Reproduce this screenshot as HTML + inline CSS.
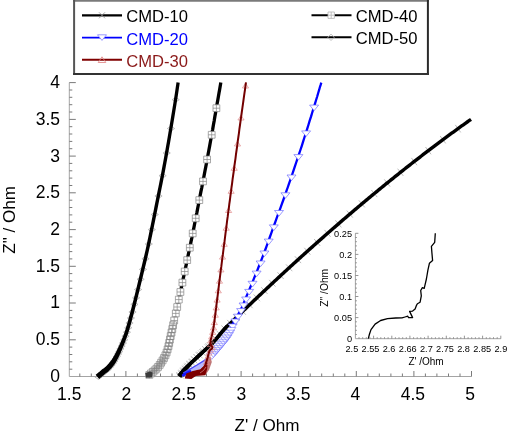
<!DOCTYPE html><html><head><meta charset="utf-8"><style>html,body{margin:0;padding:0;background:#fff;}svg{display:block;will-change:transform;}</style></head><body>
<svg width="507" height="436" viewBox="0 0 507 436" font-family="Liberation Sans, sans-serif">
<rect width="507" height="436" fill="#fff"/>
<path d="M69.3 82.6 V376.5 H471.5" stroke="#a4a4a4" stroke-width="1" fill="none"/>
<path d="M79.8 376.5v-3 M91.3 376.5v-3 M102.9 376.5v-3 M114.4 376.5v-3 M125.9 376.5v-5.5 M137.4 376.5v-3 M148.9 376.5v-3 M160.5 376.5v-3 M172.0 376.5v-3 M183.5 376.5v-5.5 M195.0 376.5v-3 M206.5 376.5v-3 M218.1 376.5v-3 M229.6 376.5v-3 M241.1 376.5v-5.5 M252.6 376.5v-3 M264.1 376.5v-3 M275.7 376.5v-3 M287.2 376.5v-3 M298.7 376.5v-5.5 M310.2 376.5v-3 M321.7 376.5v-3 M333.3 376.5v-3 M344.8 376.5v-3 M356.3 376.5v-5.5 M367.8 376.5v-3 M379.3 376.5v-3 M390.9 376.5v-3 M402.4 376.5v-3 M413.9 376.5v-5.5 M425.4 376.5v-3 M436.9 376.5v-3 M448.5 376.5v-3 M460.0 376.5v-3 M471.5 376.5v-5.5 M69.3 369.2h3 M69.3 361.8h3 M69.3 354.5h3 M69.3 347.1h3 M69.3 339.8h6.5 M69.3 332.4h3 M69.3 325.1h3 M69.3 317.7h3 M69.3 310.4h3 M69.3 303.0h6.5 M69.3 295.7h3 M69.3 288.3h3 M69.3 281.0h3 M69.3 273.6h3 M69.3 266.3h6.5 M69.3 258.9h3 M69.3 251.6h3 M69.3 244.3h3 M69.3 236.9h3 M69.3 229.6h6.5 M69.3 222.2h3 M69.3 214.9h3 M69.3 207.5h3 M69.3 200.2h3 M69.3 192.8h6.5 M69.3 185.5h3 M69.3 178.1h3 M69.3 170.8h3 M69.3 163.4h3 M69.3 156.1h6.5 M69.3 148.7h3 M69.3 141.4h3 M69.3 134.0h3 M69.3 126.7h3 M69.3 119.4h6.5 M69.3 112.0h3 M69.3 104.7h3 M69.3 97.3h3 M69.3 90.0h3 M69.3 82.6h6.5" stroke="#7a7a7a" stroke-width="1" fill="none"/>
<text x="69.2" y="399.6" font-size="17.5" text-anchor="middle">1.5</text>
<text x="126.3" y="399.6" font-size="17.5" text-anchor="middle">2</text>
<text x="183.7" y="399.6" font-size="17.5" text-anchor="middle">2.5</text>
<text x="241.4" y="399.6" font-size="17.5" text-anchor="middle">3</text>
<text x="298.2" y="399.6" font-size="17.5" text-anchor="middle">3.5</text>
<text x="355.3" y="399.6" font-size="17.5" text-anchor="middle">4</text>
<text x="412.9" y="399.6" font-size="17.5" text-anchor="middle">4.5</text>
<text x="470.0" y="399.6" font-size="17.5" text-anchor="middle">5</text>
<text x="60.1" y="381.9" font-size="17.5" text-anchor="end">0</text>
<text x="60.1" y="345.2" font-size="17.5" text-anchor="end">0.5</text>
<text x="60.1" y="308.4" font-size="17.5" text-anchor="end">1</text>
<text x="60.1" y="271.7" font-size="17.5" text-anchor="end">1.5</text>
<text x="60.1" y="235.0" font-size="17.5" text-anchor="end">2</text>
<text x="60.1" y="198.2" font-size="17.5" text-anchor="end">2.5</text>
<text x="60.1" y="161.5" font-size="17.5" text-anchor="end">3</text>
<text x="60.1" y="124.8" font-size="17.5" text-anchor="end">3.5</text>
<text x="60.1" y="88.0" font-size="17.5" text-anchor="end">4</text>
<text x="267" y="431.4" font-size="17.1" text-anchor="middle">Z' / Ohm</text>
<text transform="translate(15.1 219.9) rotate(-90)" font-size="17.1" text-anchor="middle">Z" / Ohm</text>
<path d="M460.7 132.4L455.3 124.9M445.7 143.4L440.2 136.0M431.1 154.3L425.5 147.0M417.0 165.2L411.4 157.9M403.3 175.9L397.6 168.7M390.1 186.6L384.3 179.4M377.2 197.1L371.4 190.0M364.8 207.4L358.9 200.4M352.8 217.6L346.8 210.6M341.4 227.4L335.4 220.4M330.6 236.8L324.5 229.9M320.2 245.9L314.1 239.0M310.4 254.7L304.3 247.8M301.1 263.1L294.9 256.3M292.3 271.2L286.0 264.4M283.7 279.0L277.5 272.3M275.5 286.6L269.2 279.9M267.6 294.0L261.3 287.3M260.0 301.2L253.7 294.5M252.7 308.2L246.4 301.5M245.8 314.7L239.5 308.1M239.5 320.9L233.1 314.2M233.4 326.7L227.2 319.9M228.3 331.7L221.4 325.6M223.8 337.0L216.7 331.1M219.6 342.0L212.7 336.0M215.6 346.5L209.1 339.9M211.8 350.0L205.6 343.3M208.5 353.1L202.3 346.3M205.5 355.8L199.3 349.0M202.7 358.4L196.4 351.7M200.0 360.9L193.7 354.2M197.3 363.4L191.2 356.6M194.9 365.6L188.6 359.0M192.7 367.8L186.1 361.4M190.5 370.0L183.8 363.7M188.5 372.2L181.7 366.0M186.7 374.2L179.7 368.3M185.1 376.2L177.8 370.6M183.6 378.2L176.1 372.8" stroke="#a8a8a8" stroke-width="0.8" fill="none"/>
<path d="M212.8 340.0L210.8 338.1M210.8 342.1L208.9 340.1M208.7 344.2L206.7 342.2M206.5 346.2L204.6 344.2M204.3 348.2L202.4 346.2M202.1 350.3L200.2 348.2M199.8 352.3L197.9 350.3M197.7 354.4L195.7 352.3M195.5 356.4L193.6 354.4M193.3 358.4L191.4 356.4M191.1 360.5L189.1 358.4M188.8 362.6L186.9 360.6M186.7 364.8L184.7 362.8M184.6 367.0L182.6 365.1M182.6 369.2L180.5 367.4M180.6 371.6L178.3 369.9M178.7 374.0L176.4 372.4" stroke="#bdbdbd" stroke-width="0.8" fill="none"/>
<path d="M470.02 117.94 L469.36 118.41 L468.46 119.05 L467.39 119.81 L466.24 120.62 L465.08 121.44 L464.01 122.21 L463.01 122.92 L462.01 123.64 L461.01 124.36 L460.01 125.08 L459.00 125.80 L458.00 126.52 L457.00 127.24 L456.00 127.97 L455.00 128.70 L454.00 129.42 L453.00 130.15 L452.00 130.88 L450.99 131.61 L449.99 132.35 L448.99 133.08 L447.99 133.81 L446.99 134.55 L445.99 135.29 L444.99 136.03 L443.99 136.77 L442.98 137.51 L441.98 138.25 L440.98 138.99 L439.98 139.74 L438.98 140.49 L437.98 141.23 L436.98 141.98 L435.98 142.73 L434.97 143.48 L433.97 144.24 L432.97 144.99 L431.97 145.75 L430.97 146.50 L429.97 147.26 L428.97 148.02 L427.97 148.78 L426.97 149.54 L425.96 150.30 L424.96 151.07 L423.96 151.83 L422.96 152.60 L421.96 153.37 L420.96 154.14 L419.96 154.91 L418.96 155.68 L417.95 156.45 L416.95 157.22 L415.95 158.00 L414.95 158.78 L413.95 159.55 L412.95 160.33 L411.95 161.11 L410.95 161.89 L409.95 162.67 L408.94 163.46 L407.94 164.24 L406.94 165.03 L405.94 165.82 L404.94 166.60 L403.94 167.39 L402.94 168.18 L401.94 168.98 L400.94 169.77 L399.93 170.56 L398.93 171.36 L397.93 172.16 L396.93 172.95 L395.93 173.75 L394.93 174.55 L393.93 175.35 L392.93 176.16 L391.93 176.96 L390.93 177.77 L389.92 178.57 L388.92 179.38 L387.92 180.19 L386.92 181.00 L385.92 181.81 L384.92 182.62 L383.92 183.43 L382.92 184.25 L381.92 185.06 L380.91 185.88 L379.91 186.70 L378.91 187.52 L377.91 188.34 L376.91 189.16 L375.91 189.98 L374.91 190.80 L373.91 191.63 L372.91 192.45 L371.91 193.28 L370.90 194.11 L369.90 194.94 L368.90 195.77 L367.90 196.60 L366.90 197.43 L365.90 198.27 L364.90 199.10 L363.90 199.94 L362.90 200.77 L361.90 201.61 L360.89 202.45 L359.89 203.29 L358.89 204.13 L357.89 204.98 L356.89 205.82 L355.89 206.66 L354.89 207.51 L353.89 208.36 L352.89 209.21 L351.89 210.06 L350.88 210.91 L349.88 211.76 L348.88 212.61 L347.88 213.46 L346.88 214.32 L345.88 215.17 L344.88 216.03 L343.88 216.89 L342.88 217.75 L341.88 218.61 L340.87 219.47 L339.87 220.33 L338.87 221.20 L337.87 222.06 L336.87 222.93 L335.87 223.79 L334.87 224.66 L333.87 225.53 L332.87 226.40 L331.87 227.27 L330.87 228.14 L329.86 229.02 L328.86 229.89 L327.86 230.77 L326.86 231.64 L325.86 232.52 L324.86 233.40 L323.86 234.28 L322.86 235.16 L321.86 236.04 L320.86 236.92 L319.86 237.81 L318.85 238.69 L317.85 239.58 L316.85 240.46 L315.85 241.35 L314.85 242.24 L313.85 243.13 L312.85 244.02 L311.85 244.91 L310.85 245.81 L309.85 246.70 L308.85 247.60 L307.84 248.49 L306.84 249.39 L305.84 250.29 L304.84 251.19 L303.84 252.09 L302.84 252.99 L301.84 253.89 L300.84 254.79 L299.84 255.70 L298.84 256.60 L297.84 257.51 L296.84 258.42 L295.83 259.33 L294.83 260.24 L293.83 261.15 L292.83 262.06 L291.83 262.97 L290.83 263.88 L289.83 264.80 L288.83 265.71 L287.83 266.63 L286.83 267.55 L285.83 268.46 L284.83 269.38 L283.82 270.30 L282.82 271.22 L281.82 272.15 L280.82 273.07 L279.82 273.99 L278.82 274.92 L277.82 275.84 L276.82 276.77 L275.82 277.70 L274.82 278.63 L273.82 279.56 L272.82 280.49 L271.81 281.42 L270.81 282.35 L269.81 283.29 L268.81 284.22 L267.81 285.16 L266.81 286.09 L265.81 287.03 L264.81 287.97 L263.81 288.91 L262.81 289.85 L261.81 290.79 L260.81 291.73 L259.81 292.68 L258.80 293.62 L257.80 294.57 L256.80 295.51 L255.80 296.46 L254.80 297.41 L253.80 298.36 L252.80 299.31 L251.80 300.26 L250.80 301.21 L249.80 302.16 L248.80 303.11 L247.80 304.07 L246.80 305.02 L245.79 305.98 L244.79 306.94 L243.79 307.89 L242.79 308.85 L241.79 309.81 L240.79 310.77 L239.79 311.74 L238.79 312.70 L237.79 313.66 L236.79 314.63 L235.79 315.59 L234.79 316.56 L233.79 317.52 L232.78 318.49 L231.78 319.46 L230.78 320.43 L229.79 321.39 L228.86 322.28 L227.97 323.09 L227.06 323.92 L226.07 324.85 L224.97 325.96 L223.70 327.32 L222.18 329.05 L220.45 331.09 L218.61 333.29 L216.79 335.48 L215.10 337.49 L213.68 339.13 L212.55 340.37 L211.64 341.34 L210.87 342.13 L210.13 342.85 L209.32 343.62 L208.38 344.51 L207.30 345.53 L206.13 346.60 L204.92 347.70 L203.68 348.81 L202.46 349.92 L201.29 350.99 L200.16 352.04 L199.04 353.08 L197.95 354.11 L196.88 355.11 L195.86 356.07 L194.88 356.99 L193.95 357.84 L193.07 358.64 L192.22 359.41 L191.39 360.16 L190.56 360.92 L189.72 361.68 L188.90 362.44 L188.10 363.20 L187.31 363.95 L186.54 364.70 L185.78 365.46 L185.02 366.22 L184.26 366.99 L183.49 367.78 L182.73 368.57 L181.98 369.36 L181.27 370.14 L180.59 370.90 L179.93 371.67 L179.28 372.47 L178.68 373.23 L178.14 373.92 L177.71 374.49 L177.39 374.90 L181.21 377.70 L181.52 377.26 L181.92 376.66 L182.40 375.96 L182.92 375.20 L183.46 374.44 L184.01 373.70 L184.58 372.98 L185.22 372.20 L185.88 371.40 L186.57 370.59 L187.28 369.78 L187.98 368.98 L188.67 368.20 L189.37 367.42 L190.08 366.65 L190.79 365.88 L191.53 365.10 L192.28 364.32 L193.04 363.56 L193.83 362.81 L194.64 362.07 L195.49 361.30 L196.38 360.48 L197.32 359.61 L198.31 358.69 L199.34 357.72 L200.40 356.72 L201.49 355.69 L202.60 354.65 L203.71 353.61 L204.86 352.55 L206.07 351.45 L207.31 350.34 L208.53 349.22 L209.72 348.13 L210.82 347.09 L211.77 346.18 L212.59 345.40 L213.37 344.64 L214.20 343.79 L215.16 342.77 L216.32 341.47 L217.79 339.77 L219.49 337.74 L221.31 335.54 L223.14 333.35 L224.84 331.33 L226.30 329.67 L227.49 328.39 L228.52 327.35 L229.44 326.48 L230.33 325.67 L231.24 324.84 L232.21 323.92 L233.22 322.94 L234.22 321.97 L235.22 321.00 L236.21 320.04 L237.21 319.07 L238.21 318.10 L239.21 317.14 L240.21 316.18 L241.21 315.21 L242.21 314.25 L243.21 313.29 L244.21 312.33 L245.21 311.37 L246.21 310.41 L247.21 309.46 L248.21 308.50 L249.20 307.55 L250.20 306.59 L251.20 305.64 L252.20 304.69 L253.20 303.73 L254.20 302.78 L255.20 301.83 L256.20 300.88 L257.20 299.94 L258.20 298.99 L259.20 298.04 L260.20 297.10 L261.20 296.15 L262.19 295.21 L263.19 294.27 L264.19 293.33 L265.19 292.39 L266.19 291.45 L267.19 290.51 L268.19 289.57 L269.19 288.63 L270.19 287.70 L271.19 286.76 L272.19 285.83 L273.19 284.90 L274.19 283.97 L275.18 283.03 L276.18 282.10 L277.18 281.18 L278.18 280.25 L279.18 279.32 L280.18 278.39 L281.18 277.47 L282.18 276.55 L283.18 275.62 L284.18 274.70 L285.18 273.78 L286.18 272.86 L287.17 271.94 L288.17 271.02 L289.17 270.10 L290.17 269.19 L291.17 268.27 L292.17 267.36 L293.17 266.44 L294.17 265.53 L295.17 264.62 L296.17 263.71 L297.17 262.80 L298.17 261.89 L299.16 260.99 L300.16 260.08 L301.16 259.17 L302.16 258.27 L303.16 257.37 L304.16 256.46 L305.16 255.56 L306.16 254.66 L307.16 253.76 L308.16 252.86 L309.16 251.97 L310.16 251.07 L311.15 250.18 L312.15 249.28 L313.15 248.39 L314.15 247.50 L315.15 246.61 L316.15 245.72 L317.15 244.83 L318.15 243.94 L319.15 243.05 L320.15 242.17 L321.15 241.28 L322.14 240.40 L323.14 239.51 L324.14 238.63 L325.14 237.75 L326.14 236.87 L327.14 235.99 L328.14 235.12 L329.14 234.24 L330.14 233.37 L331.14 232.49 L332.14 231.62 L333.13 230.75 L334.13 229.87 L335.13 229.00 L336.13 228.14 L337.13 227.27 L338.13 226.40 L339.13 225.54 L340.13 224.67 L341.13 223.81 L342.13 222.94 L343.13 222.08 L344.12 221.22 L345.12 220.36 L346.12 219.51 L347.12 218.65 L348.12 217.79 L349.12 216.94 L350.12 216.08 L351.12 215.23 L352.12 214.38 L353.12 213.53 L354.11 212.68 L355.11 211.83 L356.11 210.98 L357.11 210.14 L358.11 209.29 L359.11 208.45 L360.11 207.61 L361.11 206.77 L362.11 205.93 L363.11 205.09 L364.10 204.25 L365.10 203.41 L366.10 202.57 L367.10 201.74 L368.10 200.91 L369.10 200.07 L370.10 199.24 L371.10 198.41 L372.10 197.58 L373.10 196.75 L374.09 195.93 L375.09 195.10 L376.09 194.28 L377.09 193.45 L378.09 192.63 L379.09 191.81 L380.09 190.99 L381.09 190.17 L382.09 189.35 L383.09 188.54 L384.08 187.72 L385.08 186.91 L386.08 186.10 L387.08 185.28 L388.08 184.47 L389.08 183.66 L390.08 182.85 L391.08 182.05 L392.08 181.24 L393.07 180.44 L394.07 179.63 L395.07 178.83 L396.07 178.03 L397.07 177.23 L398.07 176.43 L399.07 175.63 L400.07 174.84 L401.07 174.04 L402.07 173.25 L403.06 172.45 L404.06 171.66 L405.06 170.87 L406.06 170.08 L407.06 169.29 L408.06 168.51 L409.06 167.72 L410.06 166.94 L411.06 166.15 L412.05 165.37 L413.05 164.59 L414.05 163.81 L415.05 163.03 L416.05 162.25 L417.05 161.48 L418.05 160.70 L419.05 159.93 L420.05 159.16 L421.04 158.38 L422.04 157.61 L423.04 156.85 L424.04 156.08 L425.04 155.31 L426.04 154.55 L427.04 153.78 L428.04 153.02 L429.03 152.26 L430.03 151.50 L431.03 150.74 L432.03 149.98 L433.03 149.23 L434.03 148.47 L435.03 147.72 L436.03 146.96 L437.03 146.21 L438.02 145.46 L439.02 144.71 L440.02 143.97 L441.02 143.22 L442.02 142.47 L443.02 141.73 L444.02 140.99 L445.02 140.25 L446.01 139.51 L447.01 138.77 L448.01 138.03 L449.01 137.29 L450.01 136.56 L451.01 135.83 L452.01 135.09 L453.01 134.36 L454.00 133.63 L455.00 132.90 L456.00 132.18 L457.00 131.45 L458.00 130.73 L459.00 130.00 L460.00 129.28 L461.00 128.56 L461.99 127.84 L462.99 127.12 L463.99 126.41 L464.99 125.69 L465.99 124.98 L467.06 124.22 L468.21 123.40 L469.36 122.58 L470.43 121.82 L471.33 121.18 L471.98 120.72Z" fill="#000"/>
<path d="M321.3 82.6 L320.8 84.4 L320.0 86.8 L319.2 89.7 L318.2 93.0 L317.2 96.5 L316.1 100.0 L315.0 103.7 L313.7 107.8 L312.4 112.0 L311.1 116.4 L309.7 120.7 L308.4 125.0 L307.1 129.2 L305.8 133.3 L304.4 137.5 L303.1 141.7 L301.8 145.8 L300.4 150.0 L299.0 154.2 L297.6 158.3 L296.2 162.5 L294.8 166.7 L293.4 170.8 L292.0 175.0 L290.6 179.2 L289.1 183.3 L287.7 187.5 L286.2 191.7 L284.8 195.8 L283.3 200.0 L281.8 204.2 L280.3 208.3 L278.8 212.5 L277.2 216.7 L275.7 220.8 L274.2 225.0 L272.7 229.2 L271.2 233.3 L269.7 237.5 L268.3 241.7 L266.7 245.8 L265.2 250.0 L263.6 254.2 L262.0 258.3 L260.4 262.5 L258.7 266.7 L257.1 270.8 L255.4 275.0 L253.6 279.4 L251.7 284.0 L249.8 288.5 L248.0 292.9 L246.3 296.8 L245.0 300.0 L244.0 302.4 L243.3 304.1 L242.7 305.4 L242.3 306.3 L241.9 307.3 L241.4 308.3 L240.9 309.4 L240.4 310.4 L239.9 311.3 L239.4 312.2 L238.9 313.1 L238.4 314.0 L237.9 315.0 L237.3 316.0 L236.7 317.0 L236.1 318.0 L235.5 319.0 L235.0 320.0 L234.5 320.9 L233.9 321.9 L233.4 322.8 L232.9 323.7 L232.5 324.6 L232.0 325.5 L231.6 326.4 L231.2 327.3 L230.8 328.2 L230.5 329.1 L230.1 330.0 L229.6 331.0" stroke="#0000ff" stroke-width="2.3" fill="none" stroke-linejoin="round"/>
<path d="M184 372.6 L190 368.9 L197 364.8 L204 360.4 L207 358.5 L209 358 L207 362 L204 365 L200.2 369.2 L192.6 371 L186.3 373.6 L184.7 376.5 Z" fill="#b8b8ff"/>
<path d="M309.6 105.1h9.0L314.1 110.7ZM301.6 130.9h9.0L306.1 136.5ZM293.9 154.6h9.0L298.4 160.1ZM287.0 175.0h9.0L291.5 180.6ZM280.9 192.8h9.0L285.4 198.3ZM274.5 210.5h9.0L279.0 216.1ZM269.3 224.9h9.0L273.8 230.5ZM264.2 239.1h9.0L268.7 244.7ZM259.9 251.0h9.0L264.4 256.6ZM256.1 261.0h9.0L260.6 266.6ZM252.1 271.1h9.0L256.6 276.7ZM248.0 281.3h9.0L252.5 286.9ZM244.7 289.4h9.0L249.2 295.0ZM241.6 297.0h9.0L246.1 302.6ZM239.0 303.0h9.0L243.5 308.6ZM236.6 308.6h9.0L241.1 314.2ZM233.6 314.2h9.0L238.1 319.7ZM230.9 319.0h9.0L235.4 324.6ZM228.2 323.9h9.0L232.7 329.4Z" stroke="#7070ff" stroke-width="0.7" fill="#fff"/>
<path d="M225.9 327.5h10.0L230.9 333.7ZM224.7 330.2h10.0L229.7 336.4ZM223.4 332.6h10.0L228.4 338.8ZM222.0 335.0h10.0L227.0 341.2ZM220.4 337.2h10.0L225.4 343.4ZM218.7 339.3h10.0L223.7 345.5ZM217.0 341.3h10.0L222.0 347.5ZM215.3 343.3h10.0L220.3 349.5ZM213.6 345.4h10.0L218.6 351.6ZM211.9 347.4h10.0L216.9 353.6ZM210.2 349.4h10.0L215.2 355.6ZM208.5 351.3h10.0L213.5 357.5ZM206.8 353.2h10.0L211.8 359.4Z" stroke="#7a7aff" stroke-width="0.6" fill="#fff"/>
<path d="M226.06 324.87 L224.97 325.96 L223.70 327.32 L222.18 329.05 L220.45 331.09 L218.61 333.29 L216.79 335.48 L215.10 337.49 L213.68 339.13 L212.55 340.37 L211.64 341.34 L210.87 342.13 L210.13 342.85 L209.32 343.62 L208.38 344.51 L207.30 345.53 L206.13 346.60 L204.92 347.70 L203.68 348.81 L202.46 349.92 L201.29 350.99 L200.16 352.04 L199.04 353.08 L197.95 354.11 L196.88 355.11 L195.86 356.07 L194.88 356.99 L193.95 357.84 L193.07 358.64 L192.22 359.41 L191.39 360.16 L190.56 360.92 L189.72 361.68 L188.90 362.44 L188.10 363.20 L187.31 363.95 L186.54 364.70 L185.78 365.46 L185.02 366.22 L184.26 366.99 L183.49 367.78 L182.73 368.57 L181.98 369.36 L181.27 370.14 L180.59 370.90 L179.93 371.67 L179.28 372.47 L178.68 373.23 L178.14 373.92 L177.71 374.49 L177.39 374.90 L181.21 377.70 L181.52 377.26 L181.92 376.66 L182.40 375.96 L182.92 375.20 L183.46 374.44 L184.01 373.70 L184.58 372.98 L185.22 372.20 L185.88 371.40 L186.57 370.59 L187.28 369.78 L187.98 368.98 L188.67 368.20 L189.37 367.42 L190.08 366.65 L190.79 365.88 L191.53 365.10 L192.28 364.32 L193.04 363.56 L193.83 362.81 L194.64 362.07 L195.49 361.30 L196.38 360.48 L197.32 359.61 L198.31 358.69 L199.34 357.72 L200.40 356.72 L201.49 355.69 L202.60 354.65 L203.71 353.61 L204.86 352.55 L206.07 351.45 L207.31 350.34 L208.53 349.22 L209.72 348.13 L210.82 347.09 L211.77 346.18 L212.59 345.40 L213.37 344.64 L214.20 343.79 L215.16 342.77 L216.32 341.47 L217.79 339.77 L219.49 337.74 L221.31 335.54 L223.14 333.35 L224.84 331.33 L226.30 329.67 L227.49 328.39 L228.54 327.34Z" fill="#000"/>
<path d="M183.6 372.9 L190 369.1 L197 365 L204 360.6 L207.5 358.2" stroke="#4a4aff" stroke-width="1.3" fill="none" stroke-linecap="round"/>
<path d="M183.2 375.3 L186.5 373.2 L190 371.4" stroke="#1414ff" stroke-width="2.8" fill="none" stroke-linecap="round"/>
<path d="M205.5 361 L208 356.5 L210.5 357.5 L211.8 362 L209.2 369.5 L205.3 375.2 L202.5 372 Z" fill="#a84848" opacity="0.75"/>
<path d="M184.7 378.6 L186.3 373.6 L192.6 371 L200.2 369.2 L203.5 366 L205.5 362 L207.5 363.5 L207.2 369 L205.3 375.2 L195.8 376.1 L191.4 378.9 Z" fill="#7d0000"/>
<path d="M242.4 88.0h6.2L245.5 83.3ZM237.9 120.0h6.2L241.0 115.3ZM234.4 146.0h6.2L237.5 141.3ZM231.1 170.3h6.2L234.2 165.6ZM228.0 193.3h6.2L231.1 188.6ZM225.5 212.5h6.2L228.6 207.8ZM223.1 230.2h6.2L226.2 225.5ZM221.1 246.3h6.2L224.2 241.6ZM219.4 259.1h6.2L222.5 254.4ZM217.8 271.9h6.2L220.9 267.2ZM216.4 283.2h6.2L219.5 278.5ZM215.2 292.8h6.2L218.3 288.1ZM214.0 302.1h6.2L217.1 297.4ZM213.1 309.9h6.2L216.2 305.2ZM212.2 317.2h6.2L215.3 312.5ZM211.2 324.6h6.2L214.3 319.9ZM210.4 329.9h6.2L213.5 325.2ZM209.6 334.4h6.2L212.7 329.7ZM208.6 338.7h6.2L211.7 334.1ZM207.6 342.8h6.2L210.7 338.1ZM207.4 346.6h6.2L210.5 341.9ZM209.2 349.6h6.2L212.3 345.0ZM207.3 352.2h6.2L210.4 347.5ZM205.8 355.1h6.2L208.9 350.5ZM205.0 358.3h6.2L208.1 353.7ZM204.1 361.4h6.2L207.2 356.8ZM203.2 364.5h6.2L206.3 359.8Z" stroke="#e08484" stroke-width="0.65" fill="none"/>
<path d="M200 373 L203.5 370.5 L206 367" stroke="#e0a0a0" stroke-width="0.9" fill="none" opacity="0.7"/>
<path d="M246.0 82.3 L245.7 84.1 L245.4 86.6 L245.0 89.6 L244.5 92.9 L244.0 96.4 L243.5 100.0 L243.0 103.7 L242.4 107.8 L241.8 112.0 L241.2 116.4 L240.6 120.7 L240.0 125.0 L239.4 129.2 L238.9 133.3 L238.3 137.5 L237.7 141.7 L237.2 145.8 L236.6 150.0 L236.0 154.2 L235.5 158.3 L234.9 162.5 L234.3 166.7 L233.8 170.8 L233.2 175.0 L232.6 179.2 L232.1 183.3 L231.5 187.5 L231.0 191.7 L230.4 195.8 L229.9 200.0 L229.3 204.2 L228.8 208.3 L228.2 212.5 L227.7 216.7 L227.1 220.8 L226.6 225.0 L226.1 229.2 L225.5 233.3 L225.0 237.5 L224.5 241.7 L223.9 245.8 L223.4 250.0 L222.9 254.2 L222.3 258.3 L221.8 262.5 L221.3 266.7 L220.7 270.8 L220.2 275.0 L219.7 279.2 L219.1 283.5 L218.6 287.8 L218.1 292.0 L217.6 296.1 L217.1 300.0 L216.6 303.7 L216.2 307.4 L215.7 311.0 L215.3 314.3 L214.9 317.3 L214.6 320.0 L214.3 322.2 L214.0 324.1 L213.8 325.7 L213.6 327.0 L213.4 328.3 L213.2 329.5 L213.0 330.6 L212.8 331.5 L212.6 332.3 L212.4 333.1 L212.2 334.0 L212.0 335.0 L211.7 336.3 L211.3 337.7 L210.9 339.2 L210.6 340.7 L210.4 342.1 L210.3 343.3 L210.5 344.3 L210.9 345.1 L211.4 345.8 L211.9 346.5 L212.3 347.1 L212.4 347.7 L212.2 348.2 L211.8 348.7 L211.3 349.1 L210.7 349.5 L210.1 350.1 L209.6 350.8 L209.2 351.7 L208.9 352.8 L208.6 354.0 L208.2 355.2 L207.9 356.5 L207.6 357.7 L207.2 359.0 L206.8 360.4 L206.4 361.8 L206.0 363.1 L205.7 364.2 L205.5 365.0" stroke="#730000" stroke-width="2.0" fill="none" stroke-linejoin="round"/>
<path d="M220.8 82.6 L220.5 84.4 L220.1 86.8 L219.6 89.7 L219.0 93.0 L218.4 96.5 L217.8 100.0 L217.1 103.7 L216.4 107.8 L215.7 112.0 L214.9 116.4 L214.2 120.7 L213.4 125.0 L212.7 129.2 L211.9 133.3 L211.2 137.5 L210.4 141.7 L209.7 145.8 L208.9 150.0 L208.1 154.2 L207.4 158.3 L206.6 162.5 L205.8 166.7 L205.0 170.8 L204.2 175.0 L203.4 179.2 L202.6 183.3 L201.8 187.5 L200.9 191.7 L200.1 195.8 L199.3 200.0 L198.5 204.2 L197.7 208.3 L196.9 212.5 L196.0 216.7 L195.2 220.8 L194.4 225.0 L193.6 229.2 L192.7 233.3 L191.9 237.5 L191.0 241.7 L190.2 245.8 L189.3 250.0 L188.4 254.2 L187.5 258.3 L186.7 262.5 L185.8 266.7 L184.9 270.8 L184.0 275.0 L183.1 279.2 L182.2 283.5 L181.3 287.8 L180.4 292.0 L179.5 296.1 L178.7 300.0 L177.9 303.6 L177.2 307.0 L176.4 310.3 L175.7 313.5 L175.0 316.7 L174.3 320.0 L173.5 323.5 L172.7 327.1 L171.9 330.8 L171.1 334.2 L170.4 337.4 L169.8 340.0 L169.4 342.0 L169.0 343.6 L168.8 344.8 L168.5 345.9 L168.3 346.9 L168.0 348.0 L167.6 349.2 L167.3 350.5 L166.9 351.7 L166.5 352.9 L166.0 354.0 L165.6 355.0 L165.2 356.0 L164.7 356.9 L164.2 357.7 L163.7 358.5 L163.3 359.2 L162.8 360.0 L162.4 360.7 L161.9 361.4 L161.5 362.1 L161.1 362.8 L160.7 363.4 L160.3 364.0 L159.9 364.6 L159.5 365.1 L159.2 365.6 L158.8 366.0 L158.4 366.5 L158.0 367.0 L157.5 367.5 L157.0 368.0 L156.5 368.5 L156.0 369.1 L155.5 369.5 L155.0 370.0 L154.6 370.4 L154.2 370.8 L153.8 371.1 L153.3 371.5 L152.9 371.9 L152.4 372.3 L151.8 372.8 L151.1 373.4 L150.3 374.0 L149.6 374.6 L148.9 375.1 L148.5 375.5" stroke="#000" stroke-width="3.3" fill="none" stroke-linejoin="round"/>
<path d="M213.0 104.8h6.8v6.8h-6.8ZM216.4 104.8v6.8M213.0 108.2h6.8M208.3 131.4h6.8v6.8h-6.8ZM211.7 131.4v6.8M208.3 134.8h6.8M203.7 156.1h6.8v6.8h-6.8ZM207.1 156.1v6.8M203.7 159.5h6.8M199.6 178.0h6.8v6.8h-6.8ZM203.0 178.0v6.8M199.6 181.4h6.8M195.9 196.7h6.8v6.8h-6.8ZM199.3 196.7v6.8M195.9 200.1h6.8M192.3 214.9h6.8v6.8h-6.8ZM195.7 214.9v6.8M192.3 218.3h6.8M189.3 230.0h6.8v6.8h-6.8ZM192.7 230.0v6.8M189.3 233.4h6.8M186.4 244.3h6.8v6.8h-6.8ZM189.8 244.3v6.8M186.4 247.7h6.8M183.8 256.7h6.8v6.8h-6.8ZM187.2 256.7v6.8M183.8 260.1h6.8M181.3 268.1h6.8v6.8h-6.8ZM184.7 268.1v6.8M181.3 271.5h6.8M179.0 279.2h6.8v6.8h-6.8ZM182.4 279.2v6.8M179.0 282.6h6.8M177.0 288.6h6.8v6.8h-6.8ZM180.4 288.6v6.8M177.0 292.0h6.8M175.4 296.2h6.8v6.8h-6.8ZM178.8 296.2v6.8M175.4 299.6h6.8M173.8 303.6h6.8v6.8h-6.8ZM177.2 303.6v6.8M173.8 307.0h6.8M172.4 310.0h6.8v6.8h-6.8ZM175.8 310.0v6.8M172.4 313.4h6.8M170.8 317.1h6.8v6.8h-6.8ZM174.2 317.1v6.8M170.8 320.5h6.8M169.7 321.8h6.8v6.8h-6.8ZM173.1 321.8v6.8M169.7 325.2h6.8M168.9 325.6h6.8v6.8h-6.8ZM172.3 325.6v6.8M168.9 329.0h6.8M168.1 329.2h6.8v6.8h-6.8ZM171.5 329.2v6.8M168.1 332.6h6.8M167.3 332.7h6.8v6.8h-6.8ZM170.7 332.7v6.8M167.3 336.1h6.8M166.5 336.2h6.8v6.8h-6.8ZM169.9 336.2v6.8M166.5 339.6h6.8M165.8 339.5h6.8v6.8h-6.8ZM169.2 339.5v6.8M165.8 342.9h6.8M165.1 342.8h6.8v6.8h-6.8ZM168.5 342.8v6.8M165.1 346.2h6.8M164.2 346.0h6.8v6.8h-6.8ZM167.6 346.0v6.8M164.2 349.4h6.8M163.2 349.1h6.8v6.8h-6.8ZM166.6 349.1v6.8M163.2 352.5h6.8M162.0 351.9h6.8v6.8h-6.8ZM165.4 351.9v6.8M162.0 355.3h6.8M160.6 354.6h6.8v6.8h-6.8ZM164.0 354.6v6.8M160.6 358.0h6.8M159.2 357.0h6.8v6.8h-6.8ZM162.6 357.0v6.8M159.2 360.4h6.8M157.7 359.3h6.8v6.8h-6.8ZM161.1 359.3v6.8M157.7 362.7h6.8M156.3 361.5h6.8v6.8h-6.8ZM159.7 361.5v6.8M156.3 364.9h6.8M154.7 363.5h6.8v6.8h-6.8ZM158.1 363.5v6.8M154.7 366.9h6.8M153.0 365.3h6.8v6.8h-6.8ZM156.4 365.3v6.8M153.0 368.7h6.8M151.2 367.0h6.8v6.8h-6.8ZM154.6 367.0v6.8M151.2 370.4h6.8M149.4 368.5h6.8v6.8h-6.8ZM152.8 368.5v6.8M149.4 371.9h6.8M147.6 370.0h6.8v6.8h-6.8ZM151.0 370.0v6.8M147.6 373.4h6.8M145.9 371.5h6.8v6.8h-6.8ZM149.3 371.5v6.8M145.9 374.9h6.8" stroke="#858585" stroke-width="0.7" fill="#fff"/>
<path d="M145.2 373 L150 371.5 L152.6 372.5 L152 377.6 L146 377.8 Z" fill="#3a3a3a"/>
<path d="M172.1 99.7L175.7 97.3L179.3 99.7L175.7 102.1ZM167.4 128.5L171.0 126.1L174.6 128.5L171.0 130.9ZM163.1 153.0L166.7 150.6L170.3 153.0L166.7 155.4ZM159.0 175.7L162.6 173.3L166.2 175.7L162.6 178.1ZM154.9 196.0L158.5 193.6L162.1 196.0L158.5 198.4ZM151.2 214.5L154.8 212.1L158.4 214.5L154.8 216.9ZM148.2 229.6L151.8 227.2L155.4 229.6L151.8 232.0ZM145.2 244.0L148.8 241.6L152.4 244.0L148.8 246.4ZM141.9 258.8L145.5 256.4L149.1 258.8L145.5 261.2ZM139.4 269.4L143.0 267.0L146.6 269.4L143.0 271.8ZM137.0 279.3L140.6 276.9L144.2 279.3L140.6 281.7ZM134.5 289.5L138.1 287.1L141.7 289.5L138.1 291.9ZM132.5 297.8L136.1 295.4L139.7 297.8L136.1 300.2ZM130.8 304.4L134.4 302.0L138.0 304.4L134.4 306.8ZM128.9 312.0L132.5 309.6L136.1 312.0L132.5 314.4ZM127.3 318.0L130.9 315.6L134.5 318.0L130.9 320.4ZM125.9 323.0L129.5 320.6L133.1 323.0L129.5 325.4ZM124.6 327.8L128.2 325.4L131.8 327.8L128.2 330.2ZM123.3 332.2L126.9 329.8L130.5 332.2L126.9 334.6ZM121.9 336.2L125.5 333.8L129.1 336.2L125.5 338.6ZM120.6 339.8L124.2 337.4L127.8 339.8L124.2 342.2ZM119.3 343.1L122.9 340.7L126.5 343.1L122.9 345.5ZM118.0 346.1L121.6 343.7L125.2 346.1L121.6 348.5ZM116.8 348.8L120.4 346.4L124.0 348.8L120.4 351.2ZM115.7 351.5L119.3 349.1L122.9 351.5L119.3 353.9ZM114.5 354.0L118.1 351.6L121.7 354.0L118.1 356.4ZM113.2 356.5L116.8 354.1L120.4 356.5L116.8 358.9ZM112.0 358.9L115.6 356.5L119.2 358.9L115.6 361.3ZM110.7 361.1L114.3 358.7L117.9 361.1L114.3 363.5ZM109.3 363.2L112.9 360.8L116.5 363.2L112.9 365.6ZM107.9 365.2L111.5 362.8L115.1 365.2L111.5 367.6ZM106.3 367.0L109.9 364.6L113.5 367.0L109.9 369.4ZM104.8 368.7L108.4 366.3L112.0 368.7L108.4 371.1ZM103.1 370.3L106.7 367.9L110.3 370.3L106.7 372.7ZM101.4 371.6L105.0 369.2L108.6 371.6L105.0 374.0ZM99.7 372.9L103.3 370.5L106.9 372.9L103.3 375.3ZM98.0 374.3L101.6 371.9L105.2 374.3L101.6 376.7ZM96.4 375.7L100.0 373.3L103.6 375.7L100.0 378.1ZM94.9 377.0L98.5 374.6L102.1 377.0L98.5 379.4Z" stroke="#a0a0a0" stroke-width="0.7" fill="none"/>
<path d="M176.47 82.36 L176.20 84.17 L175.85 86.59 L175.42 89.50 L174.94 92.75 L174.41 96.21 L173.86 99.74 L173.27 103.46 L172.61 107.50 L171.91 111.76 L171.19 116.11 L170.47 120.47 L169.75 124.72 L169.05 128.89 L168.34 133.05 L167.63 137.22 L166.91 141.38 L166.18 145.54 L165.44 149.71 L164.70 153.87 L163.95 158.03 L163.18 162.20 L162.41 166.36 L161.63 170.52 L160.84 174.68 L160.03 178.84 L159.20 183.00 L158.36 187.16 L157.51 191.33 L156.67 195.50 L155.83 199.67 L155.00 203.83 L154.17 208.00 L153.34 212.17 L152.50 216.33 L151.67 220.49 L150.82 224.66 L149.97 228.82 L149.12 232.99 L148.27 237.15 L147.41 241.31 L146.52 245.47 L145.61 249.63 L144.67 253.78 L143.71 257.94 L142.72 262.10 L141.72 266.26 L140.71 270.43 L139.71 274.59 L138.69 278.82 L137.65 283.11 L136.61 287.40 L135.58 291.62 L134.57 295.70 L133.60 299.57 L132.65 303.26 L131.73 306.82 L130.83 310.25 L129.96 313.51 L129.12 316.61 L128.32 319.51 L127.57 322.16 L126.89 324.55 L126.25 326.76 L125.61 328.88 L124.93 330.99 L124.19 333.17 L123.37 335.45 L122.51 337.73 L121.60 340.01 L120.64 342.26 L119.65 344.47 L118.66 346.64 L117.63 348.81 L116.57 350.98 L115.50 353.12 L114.41 355.15 L113.34 357.04 L112.31 358.73 L111.29 360.22 L110.28 361.57 L109.27 362.80 L108.28 363.95 L107.31 365.01 L106.41 365.98 L105.61 366.77 L104.91 367.37 L104.20 367.91 L103.43 368.47 L102.56 369.10 L101.62 369.84 L100.58 370.70 L99.45 371.65 L98.30 372.61 L97.22 373.52 L96.31 374.29 L95.65 374.84 L99.15 378.96 L99.80 378.40 L100.71 377.62 L101.77 376.70 L102.91 375.72 L104.02 374.78 L104.98 373.96 L105.79 373.31 L106.56 372.74 L107.37 372.14 L108.26 371.44 L109.21 370.61 L110.19 369.62 L111.19 368.52 L112.22 367.35 L113.28 366.05 L114.36 364.60 L115.44 363.01 L116.49 361.27 L117.53 359.36 L118.57 357.30 L119.59 355.12 L120.61 352.88 L121.59 350.61 L122.54 348.36 L123.47 346.10 L124.38 343.79 L125.26 341.45 L126.14 339.11 L127.00 336.76 L127.81 334.43 L128.56 332.17 L129.24 329.99 L129.87 327.82 L130.51 325.57 L131.16 323.16 L131.88 320.49 L132.67 317.56 L133.48 314.44 L134.32 311.15 L135.19 307.71 L136.08 304.13 L137.00 300.43 L137.96 296.54 L138.97 292.45 L140.00 288.23 L141.04 283.93 L142.08 279.63 L143.09 275.41 L144.09 271.24 L145.09 267.07 L146.09 262.90 L147.08 258.73 L148.04 254.55 L148.99 250.37 L149.90 246.20 L150.78 242.02 L151.64 237.85 L152.49 233.68 L153.34 229.51 L154.18 225.34 L155.02 221.17 L155.86 217.00 L156.69 212.83 L157.52 208.67 L158.34 204.50 L159.17 200.33 L160.01 196.17 L160.85 192.00 L161.69 187.84 L162.53 183.67 L163.35 179.49 L164.16 175.32 L164.95 171.15 L165.73 166.98 L166.50 162.80 L167.26 158.63 L168.01 154.46 L168.76 150.29 L169.49 146.12 L170.22 141.95 L170.93 137.78 L171.64 133.61 L172.35 129.45 L173.05 125.28 L173.76 121.02 L174.48 116.66 L175.20 112.29 L175.89 108.04 L176.54 103.99 L177.14 100.26 L177.69 96.71 L178.21 93.24 L178.69 89.98 L179.12 87.07 L179.47 84.64 L179.73 82.84Z" fill="#000"/>
<path d="M355.4 233.3 V338.7 H500.8" stroke="#a4a4a4" stroke-width="1" fill="none"/>
<path d="M359.0 338.7v-1.5 M362.7 338.7v-1.5 M366.3 338.7v-1.5 M369.9 338.7v-1.5 M373.6 338.7v-3 M377.2 338.7v-1.5 M380.8 338.7v-1.5 M384.5 338.7v-1.5 M388.1 338.7v-1.5 M391.8 338.7v-3 M395.4 338.7v-1.5 M399.0 338.7v-1.5 M402.7 338.7v-1.5 M406.3 338.7v-1.5 M409.9 338.7v-3 M413.6 338.7v-1.5 M417.2 338.7v-1.5 M420.8 338.7v-1.5 M424.5 338.7v-1.5 M428.1 338.7v-3 M431.7 338.7v-1.5 M435.4 338.7v-1.5 M439.0 338.7v-1.5 M442.6 338.7v-1.5 M446.3 338.7v-3 M449.9 338.7v-1.5 M453.5 338.7v-1.5 M457.2 338.7v-1.5 M460.8 338.7v-1.5 M464.4 338.7v-3 M468.1 338.7v-1.5 M471.7 338.7v-1.5 M475.4 338.7v-1.5 M479.0 338.7v-1.5 M482.6 338.7v-3 M486.3 338.7v-1.5 M489.9 338.7v-1.5 M493.5 338.7v-1.5 M497.2 338.7v-1.5 M500.8 338.7v-3 M355.4 334.5h1.5 M355.4 330.3h1.5 M355.4 326.1h1.5 M355.4 321.8h1.5 M355.4 317.6h3 M355.4 313.4h1.5 M355.4 309.2h1.5 M355.4 305.0h1.5 M355.4 300.8h1.5 M355.4 296.5h3 M355.4 292.3h1.5 M355.4 288.1h1.5 M355.4 283.9h1.5 M355.4 279.7h1.5 M355.4 275.5h3 M355.4 271.2h1.5 M355.4 267.0h1.5 M355.4 262.8h1.5 M355.4 258.6h1.5 M355.4 254.4h3 M355.4 250.2h1.5 M355.4 245.9h1.5 M355.4 241.7h1.5 M355.4 237.5h1.5 M355.4 233.3h3" stroke="#7a7a7a" stroke-width="0.8" fill="none"/>
<text x="351.9" y="352.4" font-size="9.2" text-anchor="middle">2.5</text>
<text x="370.5" y="352.4" font-size="9.2" text-anchor="middle">2.55</text>
<text x="389.1" y="352.4" font-size="9.2" text-anchor="middle">2.6</text>
<text x="407.8" y="352.4" font-size="9.2" text-anchor="middle">2.66</text>
<text x="426.4" y="352.4" font-size="9.2" text-anchor="middle">2.7</text>
<text x="445.0" y="352.4" font-size="9.2" text-anchor="middle">2.75</text>
<text x="463.6" y="352.4" font-size="9.2" text-anchor="middle">2.8</text>
<text x="482.2" y="352.4" font-size="9.2" text-anchor="middle">2.85</text>
<text x="500.9" y="352.4" font-size="9.2" text-anchor="middle">2.9</text>
<text x="352" y="342.0" font-size="9.2" text-anchor="end">0</text>
<text x="352" y="320.9" font-size="9.2" text-anchor="end">0.05</text>
<text x="352" y="299.8" font-size="9.2" text-anchor="end">0.1</text>
<text x="352" y="278.8" font-size="9.2" text-anchor="end">0.15</text>
<text x="352" y="257.7" font-size="9.2" text-anchor="end">0.2</text>
<text x="352" y="236.6" font-size="9.2" text-anchor="end">0.25</text>
<text x="426" y="365.1" font-size="10" text-anchor="middle">Z' /Ohm</text>
<text transform="translate(328.2 287.8) rotate(-90)" font-size="10.3" text-anchor="middle">Z" /Ohm</text>
<path d="M368.3 338.7 L369.5 334.0 L371.0 329.6 L375.1 324.1 L380.6 320.5 L387.5 318.6 L395.8 318.0 L402.0 317.9 L405.0 317.0 L407.8 316.2 L408.6 317.7 L412.6 317.6 L409.6 311.4 L412.6 311.1 L415.1 309.1 L416.6 305.1 L417.4 303.7 L420.1 302.2 L421.3 295.9 L420.7 290.5 L422.4 287.6 L424.2 288.4 L424.8 285.8 L426.4 279.0 L427.9 270.1 L429.4 263.3 L432.6 260.5 L431.9 252.8 L431.4 246.3 L434.7 242.3 L435.3 233.2" stroke="#000" stroke-width="1.3" fill="none" stroke-linejoin="round"/>
<rect x="74" y="1" width="354" height="73" fill="#fff"/>
<path d="M73.1 0.9 H428.9" stroke="#7a7a7a" stroke-width="1.8"/>
<path d="M74.1 0 V74.9" stroke="#555" stroke-width="2"/>
<path d="M427.9 0 V74.9" stroke="#2a2a2a" stroke-width="2"/>
<path d="M73.1 73.9 H428.9" stroke="#333" stroke-width="2"/>
<line x1="82" y1="15.3" x2="122" y2="15.3" stroke="#000" stroke-width="2.2"/>
<path d="M99.0 12.3l6.0 6.0M99.0 18.3l6.0 -6.0" stroke="#909090" stroke-width="0.8"/>
<text x="126.2" y="22.2" font-size="16.6" fill="#000">CMD-10</text>
<line x1="82" y1="37.6" x2="122" y2="37.6" stroke="#0000ff" stroke-width="1.8"/>
<path d="M97.5 34.8h9.0L102.0 40.4Z" stroke="#8080ff" stroke-width="0.8" fill="#fff"/>
<text x="126.2" y="44.5" font-size="16.6" fill="#0000ff">CMD-20</text>
<line x1="82" y1="59.7" x2="122" y2="59.7" stroke="#800000" stroke-width="2.0"/>
<path d="M98.2 62.5h7.6L102.0 56.8Z" stroke="#e08080" stroke-width="0.8" fill="none"/>
<text x="126.2" y="66.6" font-size="16.6" fill="#8b1a1a">CMD-30</text>
<line x1="311.5" y1="15.2" x2="351.5" y2="15.2" stroke="#000" stroke-width="2.0"/>
<path d="M328.0 12.0h6.4v6.4h-6.4ZM331.2 12.0v6.4M328.0 15.2h6.4" stroke="#b4b4b4" stroke-width="0.8" fill="#fff"/>
<text x="355.7" y="22.1" font-size="16.6" fill="#000">CMD-40</text>
<line x1="311.5" y1="37.3" x2="351.5" y2="37.3" stroke="#000" stroke-width="2.0"/>
<path d="M331.0 34.1L334.2 37.3L331.0 40.5L327.8 37.3Z" stroke="#b0b0b0" stroke-width="0.8" fill="none"/>
<text x="355.7" y="44.2" font-size="16.6" fill="#000">CMD-50</text>
</svg></body></html>
